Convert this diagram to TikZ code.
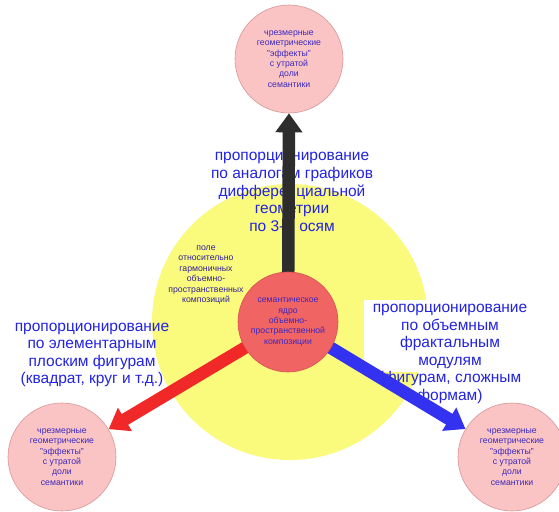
\documentclass[tikz,border=0pt]{standalone}
\usepackage{fontspec}
\setmainfont{Liberation Sans}
\usetikzlibrary{arrows.meta}
\definecolor{yel}{RGB}{250,250,125}
\definecolor{pinkf}{RGB}{250,196,196}
\definecolor{pinkd}{RGB}{215,150,150}
\definecolor{corered}{RGB}{240,100,100}
\definecolor{cored}{RGB}{215,80,80}
\definecolor{txtblue}{RGB}{35,35,225}
\definecolor{smallblue}{RGB}{60,40,190}
\definecolor{arrblack}{RGB}{45,45,45}
\definecolor{arrred}{RGB}{240,40,40}
\definecolor{arrblue}{RGB}{50,50,240}
\tikzset{
  outercirc/.style={circle, draw=pinkd, line width=0.6pt, fill=pinkf, minimum size=108pt, inner sep=0pt},
  smalltxt/.style={text=smallblue, align=center, font=\fontsize{8.7}{10.4}\selectfont},
  bigtxt/.style={text=txtblue, align=center, font=\fontsize{15.5}{17.6}\selectfont, inner sep=0.5pt},
  fatarrow/.style={line width=12.5pt, -{Triangle[width=26pt,length=19pt]}}
}
\begin{document}
\begin{tikzpicture}[x=1pt,y=-1pt]
\useasboundingbox (0,0) rectangle (559,511);
\fill[white] (0,0) rectangle (559,511);
% big yellow field
\node[circle, fill=yel, minimum size=276pt, inner sep=0pt] (field) at (290,322) {};
% white backing of the right label's upper lines
\fill[white] (364,300) rectangle (534,372);
% outer circles
\node[outercirc, smalltxt] (top) at (289,59) {чрезмерные\\геометрические\\"эффекты"\\с утратой\\доли\\семантики};
\node[outercirc, smalltxt] (bl) at (62,457) {чрезмерные\\геометрические\\"эффекты"\\с утратой\\доли\\семантики};
\node[outercirc, smalltxt] (br) at (512,457) {чрезмерные\\геометрические\\"эффекты"\\с утратой\\доли\\семантики};
% labels
\node[bigtxt] (ltop) at (292,192) {пропорционирование\\по аналогам графиков\\дифференциальной\\геометрии\\по 3-м осям};
\node[bigtxt] (lleft) at (92,355) {пропорционирование\\по элементарным\\плоским фигурам\\(квадрат, круг и т.д.)};
\node[bigtxt] (lright) at (450,354) {пропорционирование\\по объемным\\фрактальным\\модулям\\(фигурам, сложным\\формам)};
\node[smalltxt, text=smallblue!80!black] (lfield) at (206,275) {поле\\относительно\\гармоничных\\объемно-\\пространственных\\композиций};
% core position
\coordinate (c) at (288,322);
% arrows
\draw[fatarrow, arrblack] (c) -- (top.south);
\draw[fatarrow, arrred] (c) -- (bl);
\draw[fatarrow, arrblue] (c) -- (br);
% core circle
\node[circle, fill=corered, draw=cored, line width=0.6pt, minimum size=100pt, inner sep=0pt, smalltxt, text=smallblue] (core) at (c) {семантическое\\ядро\\объемно-\\пространственной\\композиции};
\end{tikzpicture}
\end{document}
